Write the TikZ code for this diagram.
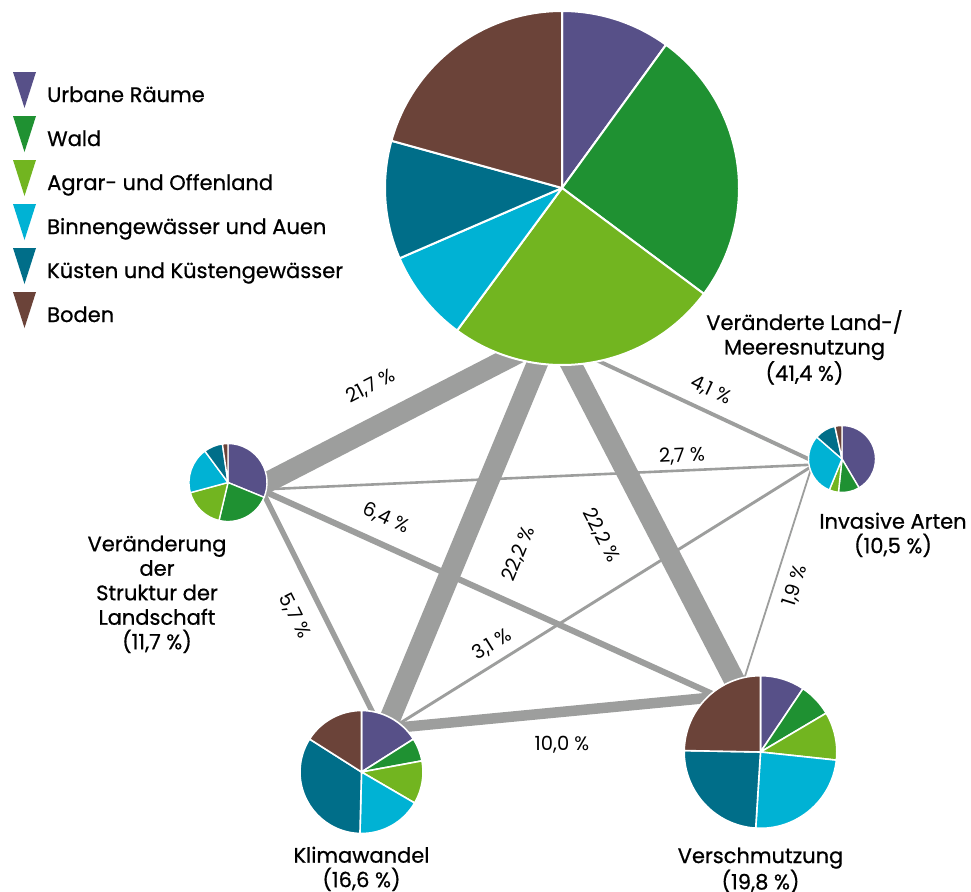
\documentclass[tikz,border=0pt]{standalone}
\usepackage{fontspec}
\setmainfont{Poppins}
\newfontfamily\mediumfont{Poppins}[FakeBold=0.7]
\usetikzlibrary{positioning}

\definecolor{urban}{RGB}{87,80,136}
\definecolor{wald}{RGB}{31,145,50}
\definecolor{agrar}{RGB}{114,181,32}
\definecolor{binnen}{RGB}{0,178,212}
\definecolor{kueste}{RGB}{0,110,137}
\definecolor{boden}{RGB}{107,67,57}
\definecolor{linkgray}{RGB}{157,158,157}

% pie: centre, radius, white gap, list of share/colour
\newcommand{\piechart}[4]{%
  \def\piestart{90}%
  \foreach \pieval/\piecol in {#4} {%
    \pgfmathsetmacro{\pieend}{\piestart-3.6*\pieval}%
    \filldraw[fill=\piecol, draw=white, line width=#3, line join=round]
      (#1) -- ++(\piestart:#2) arc[start angle=\piestart, end angle=\pieend, radius=#2] -- cycle;%
    \global\let\piestart\pieend
  }%
}

\begin{document}
\begin{tikzpicture}[x=1pt, y=1pt,
    hub/.style={circle, inner sep=0pt, outer sep=0pt, minimum size=#1},
    conn/.style={draw=linkgray, shorten <=-12pt, shorten >=-12pt},
    pct/.style={font=\fontsize{19.5}{22}\selectfont, inner xsep=0pt},
    lbl/.style={font=\mediumfont\fontsize{21}{24.5}\selectfont, align=center, inner sep=0pt},
    legend/.style={font=\mediumfont\fontsize{21}{24.5}\selectfont, anchor=base west, inner sep=0pt}]

  \useasboundingbox (0,0) rectangle (971,-891);

  % hubs (pies are drawn later on top)
  \node[hub=354pt]   (L) at (562,-188)   {};
  \node[hub=78pt]    (S) at (228,-482.5) {};
  \node[hub=67pt]    (I) at (842,-459)   {};
  \node[hub=123pt]   (K) at (361.5,-772) {};
  \node[hub=152.6pt] (V) at (760.5,-752) {};

  % connectors
  \draw[conn, line width=20.6pt] (S.0) -- node[pct, sloped, pos=.498, above, inner ysep=19pt] {21,7 \%} (L.-107.3);
  \draw[conn, line width=21pt] (L.-98.6) -- node[pct, sloped, pos=.477, below, inner ysep=37pt] {22,2 \%} (K.62);
  \draw[conn, line width=21pt] (L.-87.4) -- node[pct, sloped, pos=.466, below, inner ysep=33pt] {22,2 \%} (V.110);
  \draw[conn, line width=3.9pt] (L.-78) -- node[pct, sloped, pos=.491, above, inner ysep=10.5pt] {4,1 \%} (I.180);
  \draw[conn, line width=2.6pt] (S.-10) -- node[pct, sloped, pos=.767, above, inner ysep=4.5pt] {2,7 \%} (I.190);
  \draw[conn, line width=6.1pt] (S.-14) -- node[pct, sloped, pos=.246, above, inner ysep=14pt] {6,4 \%} (V.130);
  \draw[conn, line width=5.4pt] (S.-20) -- node[pct, sloped, pos=.502, below, inner ysep=16pt] {5,7 \%} (K.80);
  \draw[conn, line width=2.9pt] (K.52) -- node[pct, sloped, pos=.25, above, inner ysep=8pt] {3,1 \%} (I.195);
  \draw[conn, line width=10.5pt] (K.47) -- node[pct, pos=.523, below, inner ysep=19.5pt] {10,0 \%} (V.135);
  \draw[conn, line width=1.8pt] (I.200) -- node[pct, sloped, pos=.528, below, inner ysep=11pt] {1,9 \%} (V.102);

  % pies
  \piechart{L.center}{177}{2pt}{10/urban, 25.2/wald, 24.9/agrar, 8.4/binnen, 10.8/kueste, 20.7/boden}
  \piechart{S.center}{39}{1.4pt}{31.2/urban, 22.5/wald, 17.1/agrar, 19.1/binnen, 7.8/kueste, 2.3/boden}
  \piechart{I.center}{33.5}{1.4pt}{41.5/urban, 10.2/wald, 4.5/agrar, 30.2/binnen, 10.2/kueste, 3.4/boden}
  \piechart{K.center}{61.5}{1.6pt}{16/urban, 6.1/wald, 11.3/agrar, 17/binnen, 33.6/kueste, 16/boden}
  \piechart{V.center}{76.3}{1.6pt}{9.4/urban, 7.1/wald, 10.2/agrar, 24.3/binnen, 24.3/kueste, 24.7/boden}

  % pie labels
  \node[lbl, anchor=north] (L-lbl) at (804.5,-310) {Veränderte Land-/\\Meeresnutzung\\(41,4 \%)};
  \node[lbl, below=14pt of S, xshift=-71pt] (S-lbl) {Veränderung\\der\\Struktur der\\Landschaft\\(11,7 \%)};
  \node[lbl, below=20pt of I, xshift=51pt] (I-lbl) {Invasive Arten\\(10,5 \%)};
  \node[lbl, below=13pt of K] (K-lbl) {Klimawandel\\(16,6 \%)};
  \node[lbl, below=19pt of V] (V-lbl) {Verschmutzung\\(19,8 \%)};

  % legend
  \foreach \entry/\shadecol [count=\i from 0] in {Urbane Räume/urban, Wald/wald, Agrar- und Offenland/agrar,
      Binnengewässer und Auen/binnen, Küsten und Küstengewässer/kueste, Boden/boden} {
    \fill[\shadecol] (13,{-72-44*\i}) -- (36,{-72-44*\i}) -- (24.5,{-108-44*\i}) -- cycle;
    \node[legend] (leg-\i) at (47,{-102-44*\i}) {\entry};
  }
\end{tikzpicture}
\end{document}
